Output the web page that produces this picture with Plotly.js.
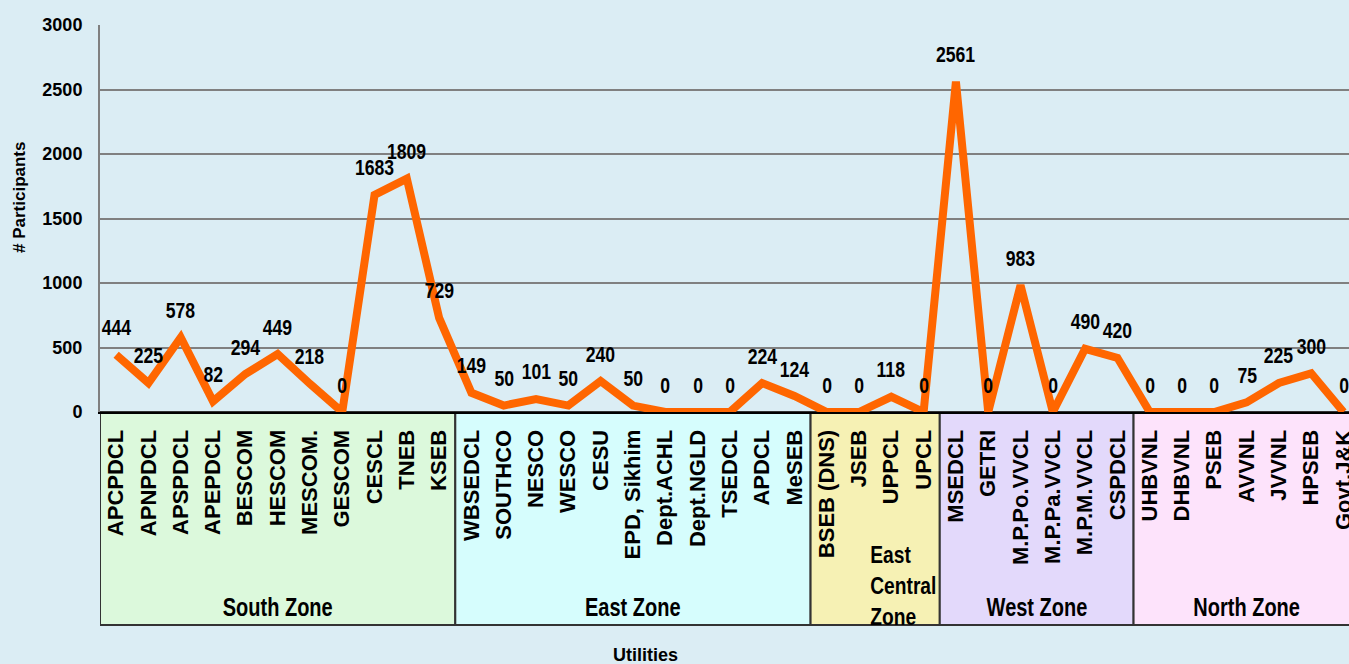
<!DOCTYPE html>
<html>
<head>
<meta charset="utf-8">
<script src="https://cdn.plot.ly/plotly-3.0.1.min.js"></script>
<style>
  html, body { margin: 0; padding: 0; background: #dbedf4; overflow: hidden; }
  #chart { width: 1349px; height: 664px; }
</style>
</head>
<body>
<div id="chart"></div>
<script>
// ---- Data ----
const utilities = [
  "APCPDCL","APNPDCL","APSPDCL","APEPDCL","BESCOM","HESCOM","MESCOM.","GESCOM","CESCL","TNEB","KSEB",
  "WBSEDCL","SOUTHCO","NESCO","WESCO","CESU","EPD, Sikhim","Dept.ACHL","Dept.NGLD","TSEDCL","APDCL","MeSEB",
  "BSEB (DNS)","JSEB","UPPCL","UPCL",
  "MSEDCL","GETRI","M.P.Po.VVCL","M.P.Pa.VVCL","M.P.M.VVCL","CSPDCL",
  "UHBVNL","DHBVNL","PSEB","AVVNL","JVVNL","HPSEB","Govt.J&K"
];
const participants = [
  444,225,578,82,294,449,218,0,1683,1809,729,
  149,50,101,50,240,50,0,0,0,224,124,
  0,0,118,0,
  2561,0,983,0,490,420,
  0,0,0,75,225,300,0
];
const zoneNames = ["South Zone","East Zone","East<br>Central<br>Zone","West Zone","North Zone"];
const zoneCounts = [11, 11, 4, 6, 7];
const zoneColors = ["#dcf9dc","#d6fdfd","#f6f1b4","#e3d9fb","#fde3fb"];
const yTicks = [0,500,1000,1500,2000,2500,3000];
const xTitle = "Utilities";
const yTitle = "# Participants";

// ---- Layout helpers ----
const BOLD = "Liberation Sans, Arial, sans-serif";
const W = 1349, H = 664;
const plotLeft = 100, plotTop = 25, plotBottom = 412, boxBottom = 625;
const plotH = plotBottom - plotTop, plotW = W - plotLeft;
const boxY0 = -(boxBottom - plotBottom) / plotH;

const shapes = [];
const annotations = [];
const narrowIdx = [];

let start = 0;
zoneCounts.forEach((n, i) => {
  const end = start + n - 1;
  shapes.push({
    type: "rect", xref: "x", yref: "paper",
    x0: start - 0.5, x1: end + 0.5, y0: boxY0, y1: 0,
    fillcolor: zoneColors[i], line: {color: "#333333", width: 2}, layer: "below"
  });
  const multi = zoneNames[i].indexOf("<br>") >= 0;
  narrowIdx.push(annotations.length);
  annotations.push({
    xref: "x", yref: "paper",
    x: (start + end) / 2,
    y: multi ? -(585 - plotBottom) / plotH : -(607 - plotBottom) / plotH,
    xshift: multi ? 28 : 0,
    xanchor: "center", yanchor: "middle",
    text: zoneNames[i], showarrow: false, align: multi ? "left" : "center",
    font: {family: BOLD, size: multi ? 24 : 25, color: "#000", weight: "bold"}
  });
  start = end + 1;
});

participants.forEach((v, i) => {
  narrowIdx.push(annotations.length);
  annotations.push({
    x: utilities[i], y: v, xref: "x", yref: "y",
    text: String(v), showarrow: false, yshift: 27,
    xanchor: "center", yanchor: "middle",
    font: {family: BOLD, size: 22, color: "#000", weight: "bold"}
  });
});

// axis titles
annotations.push({
  xref: "paper", yref: "paper",
  x: (645 - plotLeft) / plotW, y: -(655 - plotBottom) / plotH,
  xanchor: "center", yanchor: "middle", showarrow: false,
  text: xTitle, font: {family: BOLD, size: 18, color: "#000", weight: "bold"}
});
annotations.push({
  xref: "paper", yref: "paper",
  x: (19 - plotLeft) / plotW, y: (plotBottom - 197) / plotH,
  xanchor: "center", yanchor: "middle", showarrow: false, textangle: -90,
  text: yTitle, font: {family: BOLD, size: 17, color: "#000", weight: "bold"}
});

const trace = {
  type: "scatter", mode: "lines",
  x: utilities, y: participants,
  line: {color: "#ff6600", width: 8},
  hoverinfo: "x+y"
};

const layout = {
  width: W, height: H,
  margin: {l: plotLeft, r: 0, t: plotTop, b: H - plotBottom, pad: 0},
  paper_bgcolor: "#dbedf4",
  plot_bgcolor: "rgba(0,0,0,0)",
  showlegend: false,
  font: {family: BOLD, color: "#000"},
  xaxis: {
    type: "category",
    range: [-0.5, 38.17],
    showgrid: false, zeroline: false,
    showline: true, linecolor: "#000", linewidth: 2,
    ticks: "", tickangle: -90,
    ticklabelstandoff: 7,
    tickfont: {family: BOLD, size: 22, color: "#000", weight: "bold"},
    automargin: false, fixedrange: true
  },
  yaxis: {
    range: [0, 3000],
    tickvals: yTicks,
    showgrid: true, gridcolor: "#808080", gridwidth: 2,
    zeroline: false,
    showline: true, linecolor: "#808080", linewidth: 2,
    ticks: "", ticklabelstandoff: 12,
    tickfont: {family: BOLD, size: 18, color: "#000", weight: "bold"},
    automargin: false, fixedrange: true
  },
  shapes: shapes,
  annotations: annotations
};

Plotly.newPlot("chart", [trace], layout, {displayModeBar: false, staticPlot: true}).then(() => {
  // condensed look of the original labels (narrow bold face)
  narrowIdx.forEach(i => {
    const t = document.querySelector('#chart .annotation[data-index="' + i + '"] text.annotation-text');
    if (t) {
      t.style.transformBox = "fill-box";
      t.style.transformOrigin = "50% 50%";
      t.style.transform = "scaleX(0.8)";
    }
  });
});
</script>
</body>
</html>
